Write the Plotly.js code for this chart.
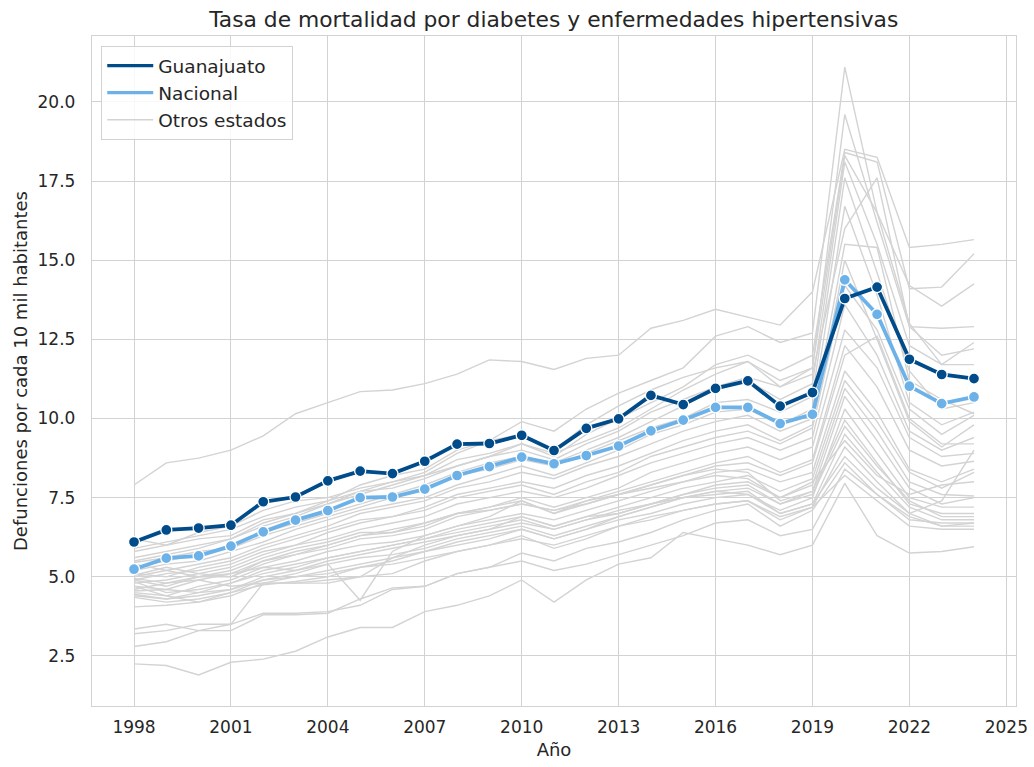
<!DOCTYPE html>
<html>
<head>
<meta charset="utf-8">
<script src="https://cdn.plot.ly/plotly-3.0.1.min.js"></script>
<style>html,body{margin:0;padding:0;background:#fff;}#chart{width:1034px;height:767px;}</style>
</head>
<body>
<div id="chart"></div>
<script>
const years = [1998,1999,2000,2001,2002,2003,2004,2005,2006,2007,2008,2009,2010,2011,2012,2013,2014,2015,2016,2017,2018,2019,2020,2021,2022,2023,2024];

const guanajuato = [6.10,6.48,6.54,6.63,7.37,7.52,8.03,8.34,8.26,8.65,9.19,9.21,9.47,8.99,9.69,9.99,10.73,10.44,10.95,11.19,10.39,10.82,13.79,14.15,11.87,11.39,11.26];
const nacional = [5.24,5.59,5.66,5.97,6.42,6.79,7.09,7.50,7.52,7.77,8.20,8.48,8.78,8.57,8.83,9.13,9.61,9.95,10.35,10.35,9.84,10.13,14.38,13.29,11.02,10.47,10.68];

const otrosEstados = [
  [7.9,8.6,8.75,9.0,9.45,10.15,10.5,10.85,10.9,11.1,11.4,11.85,11.8,11.55,11.9,12.0,12.85,13.1,13.45,13.2,12.95,14.0,18.5,18.25,15.4,15.5,15.65],
  [5.9,6.1,6.3,6.5,6.9,7.2,7.4,7.9,8.2,8.4,9.0,9.3,9.9,9.6,10.3,10.8,11.2,11.6,12.6,12.9,12.4,12.7,21.1,16.5,13.0,11.7,12.4],
  [5.6,5.8,6.0,6.2,6.7,7.0,7.3,7.7,8.0,8.3,8.9,9.3,9.5,9.0,9.8,10.4,10.9,11.3,11.6,11.8,11.0,11.6,19.6,16.2,12.9,12.0,12.2],
  [6.2,6.0,6.4,6.6,7.1,7.4,7.5,7.8,8.0,8.2,8.7,8.9,9.2,8.8,9.5,10.0,10.5,11.0,11.7,12.0,11.5,12.0,18.4,18.1,14.1,14.15,15.2],
  [5.5,5.7,5.9,6.2,6.6,6.9,7.3,7.6,7.9,8.2,8.5,8.8,9.2,8.9,9.3,9.7,10.3,10.9,11.4,11.8,11.2,11.6,18.3,16.5,14.2,13.55,14.25],
  [5.8,6.0,6.2,6.3,6.8,7.0,7.4,7.7,7.8,8.1,8.5,8.8,9.0,8.7,9.2,9.6,10.2,10.6,11.0,11.3,11.0,11.4,16.0,17.6,12.9,12.85,12.9],
  [5.3,5.5,5.7,6.0,6.4,6.7,7.0,7.3,7.6,7.9,8.3,8.6,8.8,8.6,9.0,9.4,9.9,10.4,10.9,11.2,10.6,11.1,18.1,15.5,12.3,11.7,11.7],
  [5.45,5.6,5.8,5.9,6.3,6.6,6.9,7.2,7.5,7.8,8.2,8.4,8.7,8.5,8.9,9.3,9.7,10.0,10.5,10.6,10.2,10.7,17.6,14.6,11.5,10.3,10.5],
  [5.2,5.4,5.5,5.8,6.1,6.5,6.8,7.1,7.3,7.5,7.9,8.2,8.5,8.2,8.6,9.0,9.5,9.8,10.2,10.3,9.8,10.3,16.7,13.9,10.5,9.8,10.2],
  [5.0,5.2,5.4,5.6,6.0,6.3,6.6,7.0,7.2,7.4,7.8,8.0,8.3,8.1,8.5,8.8,9.2,9.6,9.9,10.1,9.6,10.0,15.5,15.4,11.2,10.6,10.15],
  [4.9,5.1,5.2,5.4,5.8,6.0,6.4,6.7,6.9,7.2,7.6,7.8,8.0,7.8,8.2,8.5,8.9,9.3,9.6,9.8,9.3,9.8,15.0,12.5,9.9,9.1,9.8],
  [5.1,5.0,5.3,5.5,5.9,6.2,6.5,6.8,6.9,7.1,7.5,7.7,7.9,7.6,8.0,8.3,8.8,9.1,9.4,9.6,9.2,9.7,14.2,12.8,10.3,9.5,10.1],
  [4.8,4.9,5.1,5.3,5.7,6.0,6.2,6.5,6.7,6.9,7.3,7.5,7.7,7.5,7.8,8.2,8.6,8.9,9.2,9.4,9.0,9.4,13.6,12.0,9.6,9.0,9.4],
  [4.7,4.6,4.9,5.1,5.5,5.8,6.0,6.3,6.5,6.7,7.0,7.2,7.5,7.2,7.5,7.8,8.3,8.6,8.9,9.1,8.7,9.1,12.8,11.6,9.4,8.8,8.9],
  [5.4,5.2,5.0,5.2,5.6,5.9,6.1,6.4,6.4,6.6,7.0,7.2,7.4,7.0,7.4,7.7,8.0,8.3,8.6,8.8,8.3,8.7,12.3,11.0,9.0,8.5,8.65],
  [4.6,4.8,5.0,5.0,5.4,5.7,5.9,6.2,6.3,6.5,6.9,7.1,7.3,7.1,7.3,7.6,7.9,8.2,8.5,8.6,8.2,8.6,12.0,12.6,10.0,9.2,9.2],
  [4.5,4.4,4.7,4.9,5.3,5.5,5.8,6.0,6.1,6.3,6.6,6.8,7.0,6.8,7.1,7.4,7.7,8.0,8.3,8.4,8.0,8.3,11.5,10.2,8.4,8.0,8.4],
  [4.55,4.6,4.5,4.8,5.2,5.4,5.6,5.8,6.0,6.2,6.5,6.7,6.9,6.6,6.9,7.2,7.5,7.8,8.0,8.2,7.7,8.1,11.2,9.9,8.3,7.8,8.3],
  [4.45,4.3,4.4,4.6,5.0,5.2,5.5,5.7,5.9,6.1,6.3,6.5,6.7,6.5,6.8,7.0,7.3,7.6,7.9,8.0,7.5,7.9,10.95,9.6,8.0,7.6,7.55],
  [4.35,4.2,4.3,4.5,4.9,5.1,5.4,5.6,5.7,5.9,6.2,6.4,6.6,6.3,6.6,6.9,7.2,7.5,7.7,7.8,7.3,7.7,10.7,9.3,7.8,7.3,7.5],
  [4.05,4.1,4.2,4.4,4.8,5.0,5.2,5.4,5.6,5.8,6.1,6.3,6.5,6.2,6.5,6.8,7.0,7.3,7.5,7.6,7.1,7.5,10.3,8.9,7.5,7.2,7.2],
  [4.9,4.7,5.0,5.1,5.3,5.2,5.4,4.26,5.8,6.3,6.6,6.9,7.4,7.0,7.3,7.6,7.9,8.2,8.4,8.3,7.4,7.7,9.95,8.6,7.3,7.0,7.0],
  [4.85,4.5,4.6,4.8,5.1,5.3,5.6,5.8,6.0,6.2,6.4,6.6,6.8,6.5,6.8,7.1,7.3,7.6,7.8,7.9,7.3,7.6,9.75,8.5,7.4,6.9,6.9],
  [4.95,4.8,4.9,4.7,4.8,4.8,4.9,5.0,5.6,6.0,6.3,6.5,6.9,6.6,6.9,7.0,7.3,7.5,7.7,7.6,7.0,7.3,9.5,8.3,7.2,6.8,6.8],
  [3.35,3.5,3.3,3.5,4.8,4.8,4.8,5.0,5.1,5.5,5.8,6.0,6.3,5.9,6.2,6.6,6.9,7.1,7.3,7.4,6.8,7.2,9.1,8.0,7.0,6.6,6.7],
  [4.4,4.3,4.5,4.6,4.9,5.0,5.1,5.3,5.5,5.8,6.0,6.2,6.5,6.2,6.5,6.9,7.2,7.5,7.6,7.7,7.0,7.3,8.8,7.8,7.0,7.4,9.0],
  [3.2,3.3,3.5,3.5,3.85,3.85,3.9,4.1,4.6,4.7,5.1,5.3,5.75,5.5,5.9,6.1,6.4,6.8,7.1,7.3,6.6,7.1,8.6,7.6,6.9,6.6,6.6],
  [2.8,2.95,3.3,3.3,3.8,3.8,3.85,4.3,4.65,4.7,5.1,5.3,5.5,5.2,5.4,5.7,6.0,6.3,6.7,6.8,6.3,6.5,8.4,7.6,6.8,6.7,6.7],
  [4.7,4.4,4.2,4.5,4.75,4.85,5.0,5.3,5.4,5.6,5.8,6.0,6.2,6.0,6.3,6.6,6.8,7.1,7.3,7.4,6.9,7.2,8.2,7.4,6.6,6.5,6.5],
  [2.25,2.2,1.9,2.3,2.4,2.65,3.1,3.4,3.4,3.9,4.1,4.4,4.9,4.2,4.9,5.4,5.6,6.4,6.2,6.0,5.7,6.0,7.95,6.3,5.75,5.8,5.95],
  [5.05,5.3,5.1,5.0,5.5,5.7,6.0,6.3,6.4,6.7,7.0,7.1,7.3,7.1,7.4,7.6,7.8,8.0,8.2,8.1,7.5,8.0,9.3,8.2,7.6,7.9,8.0]
];

const xTicks = [1998,2001,2004,2007,2010,2013,2016,2019,2022,2025];
const yTicks = [2.5,5.0,7.5,10.0,12.5,15.0,17.5,20.0];

const seriesNames = ['Guanajuato', 'Nacional', 'Otros estados'];
const FONT = 'DejaVu Sans, sans-serif';
const TXT = '#262626';
const GRID = '#d2d2d2';
const C_GTO = '#004b8a';
const C_NAC = '#6cb2e8';
const C_OTR = '#d3d3d3';

const traces = [];
otrosEstados.forEach((vals) => {
  traces.push({
    x: years, y: vals, type: 'scatter', mode: 'lines', showlegend: false,
    line: {color: C_OTR, width: 1.4}, hoverinfo: 'skip'
  });
});
traces.push({
  x: years, y: nacional, type: 'scatter', mode: 'lines+markers', showlegend: false,
  line: {color: C_NAC, width: 3.8},
  marker: {color: C_NAC, size: 11, line: {color: '#ffffff', width: 1.3}}
});
traces.push({
  x: years, y: guanajuato, type: 'scatter', mode: 'lines+markers', showlegend: false,
  line: {color: C_GTO, width: 3.8},
  marker: {color: C_GTO, size: 11, line: {color: '#ffffff', width: 1.3}}
});
// legend entries (line samples only, as in the reference)
const legendStyles = [{color: C_GTO, width: 3.2}, {color: C_NAC, width: 3.2}, {color: C_OTR, width: 1.4}];
seriesNames.forEach((nm, i) => {
  traces.push({
    x: [null], y: [null], type: 'scatter', mode: 'lines', name: nm,
    showlegend: true, legendrank: i + 1, line: legendStyles[i], hoverinfo: 'skip'
  });
});

const layout = {
  width: 1034, height: 767,
  margin: {l: 92, r: 18, t: 36, b: 61},
  paper_bgcolor: '#ffffff', plot_bgcolor: '#ffffff',
  font: {family: FONT, color: TXT, size: 17},
  title: {text: 'Tasa de mortalidad por diabetes y enfermedades hipertensivas',
          font: {family: FONT, size: 21.8, color: TXT}, x: 0.5355, xanchor: 'center', y: 0.975, yanchor: 'middle'},
  xaxis: {
    range: [1996.7, 2025.3], tickvals: xTicks, ticktext: xTicks.map(String),
    showgrid: true, gridcolor: GRID, gridwidth: 1, zeroline: false,
    showline: true, linecolor: GRID, linewidth: 1.2, mirror: true, ticks: '',
    tickfont: {size: 17, color: TXT}, ticklabelstandoff: 5,
    title: {text: 'Año', font: {size: 18, color: TXT}, standoff: 7}
  },
  yaxis: {
    range: [0.92, 22.08], tickvals: yTicks, ticktext: yTicks.map(v => v.toFixed(1)),
    showgrid: true, gridcolor: GRID, gridwidth: 1, zeroline: false,
    showline: true, linecolor: GRID, linewidth: 1.2, mirror: true, ticks: '',
    tickfont: {size: 17, color: TXT}, ticklabelstandoff: 12,
    title: {text: 'Defunciones por cada 10 mil habitantes', font: {size: 18, color: TXT}, standoff: 5}
  },
  legend: {
    x: 0.01, y: 0.985, xanchor: 'left', yanchor: 'top',
    bgcolor: 'rgba(255,255,255,0.85)', bordercolor: '#d2d2d2', borderwidth: 1,
    font: {size: 18.5, color: TXT}, tracegroupgap: 0, itemwidth: 46
  },
  showlegend: true
};

Plotly.newPlot('chart', traces, layout, {displayModeBar: false, staticPlot: true});
</script>
</body>
</html>
